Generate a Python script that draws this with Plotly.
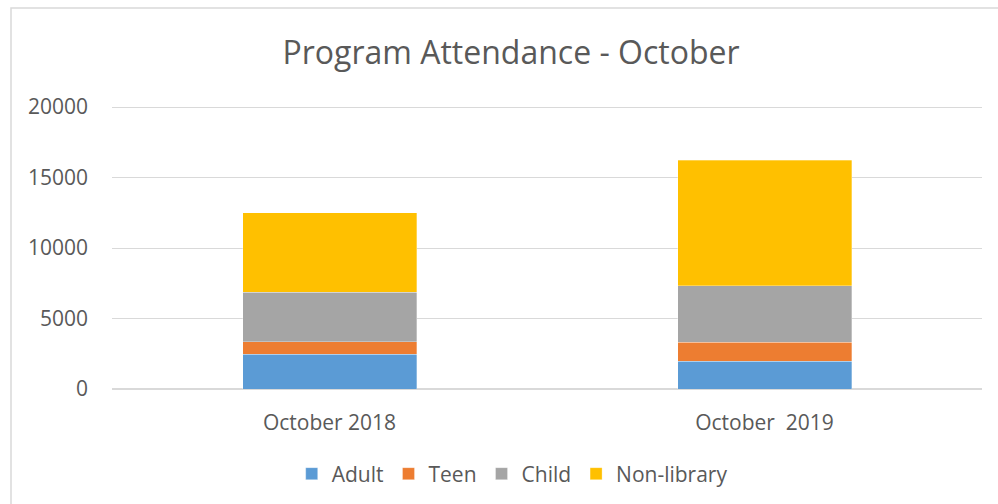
import plotly.graph_objects as go

categories = ["October 2018", "October\u00a0 2019"]
adult = [2460, 1980]
teen = [890, 1350]
child = [3520, 4010]
non_library = [5620, 8880]
y_ticks = [0, 5000, 10000, 15000, 20000]
y_tick_labels = ["0", "5000", "10000", "15000", "20000"]

series = [
    ("Adult", adult, "#5B9BD5"),
    ("Teen", teen, "#ED7D31"),
    ("Child", child, "#A5A5A5"),
    ("Non-library", non_library, "#FFC000"),
]

FONT = "Open Sans"
TXT = "#595959"
PLOT_H = 289

fig = go.Figure()
for name, vals, col in series:
    fig.add_trace(go.Bar(
        name=name, x=categories, y=vals,
        marker=dict(color=col, line=dict(color="rgba(255,255,255,0.6)", width=0.5)),
    ))

fig.update_layout(
    barmode="stack",
    bargap=0.6,
    width=998, height=504,
    margin=dict(l=112, r=16, t=100, b=115, autoexpand=False),
    paper_bgcolor="white", plot_bgcolor="white",
    font=dict(family=FONT, color=TXT, size=21),
    title=dict(text="Program Attendance - October", x=0.512, xref="container",
               y=1 - 53 / 504, yref="container", xanchor="center", yanchor="middle",
               font=dict(family=FONT, size=32, color=TXT)),
    legend=dict(orientation="h", x=0.46, xanchor="center", y=-85 / PLOT_H, yanchor="middle",
                font=dict(family=FONT, size=21, color=TXT), traceorder="normal",
                itemwidth=30),
    showlegend=True,
    shapes=[dict(type="rect", xref="paper", yref="paper",
                 x0=(11 - 112) / 870, x1=(1005 - 112) / 870,
                 y0=(389 - 520) / PLOT_H, y1=(389 - 8) / PLOT_H,
                 line=dict(color="#D9D9D9", width=1.5), fillcolor="rgba(0,0,0,0)",
                 layer="below")],
)
fig.update_yaxes(range=[0, 20500], tickvals=y_ticks, ticktext=y_tick_labels,
                 showgrid=True, gridcolor="#D9D9D9", automargin=False,
                 gridwidth=1, zeroline=True, zerolinecolor="#D9D9D9", showline=False,
                 ticklabelstandoff=23, tickfont=dict(size=21, color=TXT))
fig.update_xaxes(showgrid=False, showline=False, ticks="", ticklabelstandoff=19,
                 automargin=False, tickfont=dict(size=21, color=TXT))

fig.write_html("out.html", config={"displayModeBar": False},
               post_script="document.body.style.margin='0';document.body.style.overflow='hidden';")
